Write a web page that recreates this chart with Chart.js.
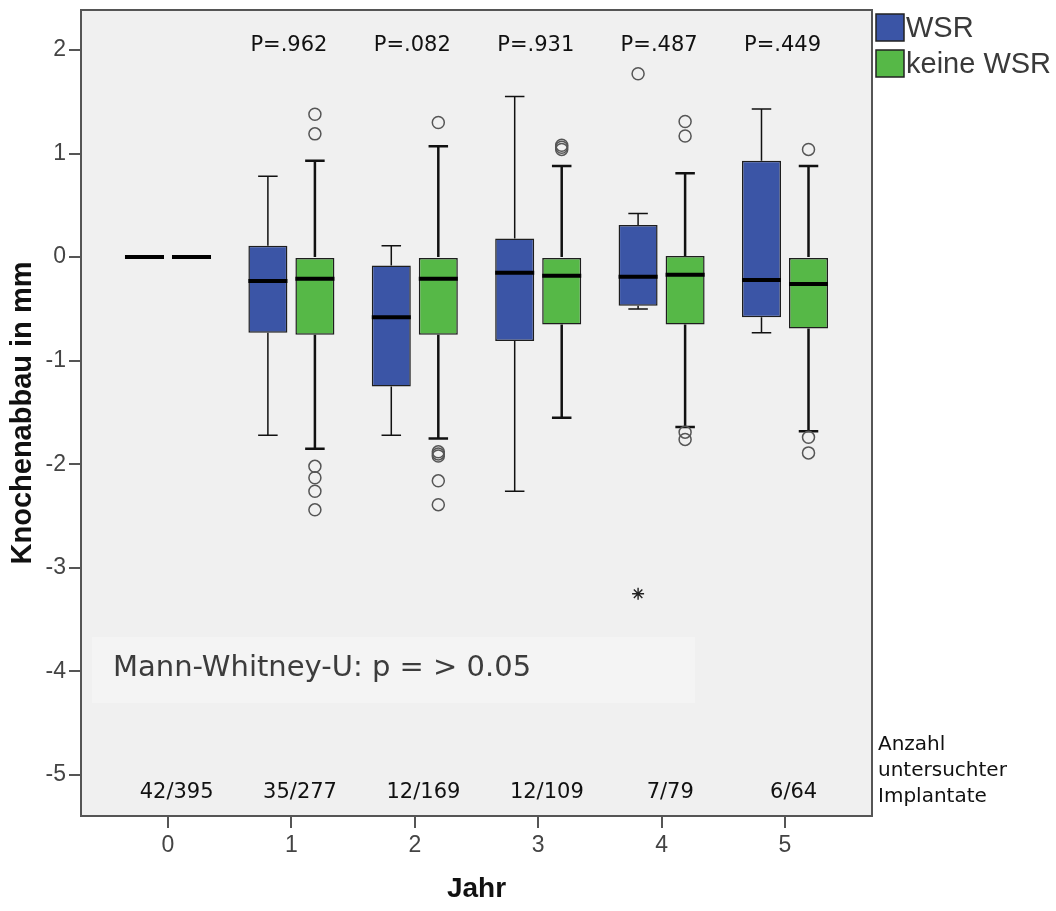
<!DOCTYPE html>
<html>
<head>
<meta charset="utf-8">
<script src="https://cdn.jsdelivr.net/npm/chart.js@4.4.1/dist/chart.umd.min.js"></script>
<style>
  body { margin: 0; background: #fff; }
  #wrap { width: 1056px; height: 911px; position: relative; }
</style>
</head>
<body>
<div id="wrap"><canvas id="chart"></canvas></div>
<script>
// Jahr nach Implantation
const years = [0, 1, 2, 3, 4, 5];

// WSR
const wsrMin = [0, -1.72, -1.72, -2.26, -0.50, -0.73];
const wsrQ1  = [0, -0.73, -1.25, -0.81, -0.47, -0.58];
const wsrMed = [0, -0.23, -0.58, -0.15, -0.19, -0.22];
const wsrQ3  = [0, 0.11, -0.08, 0.18, 0.31, 0.93];
const wsrMax = [0, 0.78, 0.11, 1.55, 0.42, 1.43];
const wsrOutliers = [[], [], [], [], [1.77], []];
const wsrExtremes = [[], [], [], [], [-3.25], []];

// keine WSR
const keineMin = [0, -1.85, -1.75, -1.55, -1.64, -1.68];
const keineQ1  = [0, -0.75, -0.75, -0.65, -0.65, -0.69];
const keineMed = [0, -0.21, -0.21, -0.18, -0.17, -0.26];
const keineQ3  = [0, 0, 0, 0, 0.01, 0];
const keineMax = [0, 0.93, 1.07, 0.88, 0.81, 0.88];
const keineOutliers = [
  [],
  [1.38, 1.19, -2.02, -2.13, -2.26, -2.44],
  [1.30, -1.88, -1.90, -1.92, -2.16, -2.39],
  [1.04, 1.06, 1.08],
  [1.31, 1.17, -1.69, -1.76],
  [1.04, -1.74, -1.89]
];

const pLabels = ['', 'P=.962', 'P=.082', 'P=.931', 'P=.487', 'P=.449'];
const countLabels = ['42/395', '35/277', '12/169', '12/109', '7/79', '6/64'];
const yTicks = [-5, -4, -3, -2, -1, 0, 1, 2];

const BLUE = '#3b55a6';
const GREEN = '#56b847';
const CAT_PCT = 0.762;
const GROUP_OFFSET = CAT_PCT / 4;

const boxStats = [
  {min: wsrMin, q1: wsrQ1, med: wsrMed, q3: wsrQ3, max: wsrMax, lw: 1.5},
  {min: keineMin, q1: keineQ1, med: keineMed, q3: keineQ3, max: keineMax, lw: 2.5}
];

const flatPoints = (lists, off) => {
  const pts = [];
  lists.forEach((vals, i) => vals.forEach(v => pts.push({x: years[i] + off, y: v})));
  return pts;
};

const boxPlugin = {
  id: 'boxplot',
  beforeDraw(chart) {
    const {ctx, chartArea: a} = chart;
    ctx.save();
    ctx.fillStyle = '#f0f0f0';
    ctx.fillRect(a.left, a.top, a.right - a.left, a.bottom - a.top);
    ctx.restore();
  },
  beforeDatasetsDraw(chart) {
    const {ctx, chartArea: a, scales: {y}} = chart;
    ctx.save();
    // Hinweisfeld
    ctx.fillStyle = '#f4f4f4';
    ctx.fillRect(a.left + 11, 637, 603, 66);
    ctx.fillStyle = '#3c3c3c';
    ctx.font = '29px "DejaVu Sans"';
    ctx.textBaseline = 'middle';
    ctx.fillText('Mann-Whitney-U: p = > 0.05', a.left + 32, 668);

    // whiskers
    ctx.strokeStyle = '#111';
    boxStats.forEach((s, d) => {
      const meta = chart.getDatasetMeta(d);
      meta.data.forEach((el, i) => {
        const x = el.x, cap = el.width * 0.5;
        ctx.lineWidth = s.lw;
        ctx.beginPath();
        ctx.moveTo(x, y.getPixelForValue(s.q3[i]));
        ctx.lineTo(x, y.getPixelForValue(s.max[i]));
        ctx.moveTo(x, y.getPixelForValue(s.q1[i]));
        ctx.lineTo(x, y.getPixelForValue(s.min[i]));
        ctx.moveTo(x - cap / 2, y.getPixelForValue(s.max[i]));
        ctx.lineTo(x + cap / 2, y.getPixelForValue(s.max[i]));
        ctx.moveTo(x - cap / 2, y.getPixelForValue(s.min[i]));
        ctx.lineTo(x + cap / 2, y.getPixelForValue(s.min[i]));
        ctx.stroke();
      });
    });
    ctx.restore();
  },
  afterDatasetsDraw(chart) {
    const {ctx, chartArea: a, scales: {x, y}} = chart;
    ctx.save();
    ctx.strokeStyle = '#000';
    ctx.lineWidth = 4;
    boxStats.forEach((s, d) => {
      chart.getDatasetMeta(d).data.forEach((el, i) => {
        const py = y.getPixelForValue(s.med[i]);
        ctx.beginPath();
        ctx.moveTo(el.x - el.width / 2, py);
        ctx.lineTo(el.x + el.width / 2, py);
        ctx.stroke();
      });
    });

    ctx.fillStyle = '#111';
    ctx.textAlign = 'center';
    ctx.textBaseline = 'middle';
    ctx.font = '21px "DejaVu Sans"';
    years.forEach((yr, i) => {
      if (pLabels[i]) ctx.fillText(pLabels[i], x.getPixelForValue(yr - 0.02), a.top + 36);
    });
    ctx.font = '21px "DejaVu Sans"';
    years.forEach((yr, i) => {
      ctx.fillText(countLabels[i], x.getPixelForValue(yr + 0.07), a.bottom - 23);
    });
    ctx.restore();
  },
  afterDraw(chart) {
    const {ctx, chartArea: a} = chart;
    ctx.save();
    ctx.strokeStyle = '#555';
    ctx.lineWidth = 2;
    ctx.strokeRect(a.left, a.top, a.right - a.left, a.bottom - a.top);

    // Legende
    const items = [['WSR', BLUE], ['keine WSR', GREEN]];
    items.forEach(([label, col], k) => {
      const top = 14 + k * 36;
      ctx.fillStyle = col;
      ctx.fillRect(a.right + 4, top, 28, 27);
      ctx.strokeStyle = '#222';
      ctx.lineWidth = 1.5;
      ctx.strokeRect(a.right + 4, top, 28, 27);
      ctx.fillStyle = '#3a3a3a';
      ctx.font = '29px "Liberation Sans"';
      ctx.textBaseline = 'middle';
      ctx.fillText(label, a.right + 34, top + 15);
    });

    ctx.fillStyle = '#111';
    ctx.font = '20px "DejaVu Sans"';
    ctx.textBaseline = 'alphabetic';
    ['Anzahl', 'untersuchter', 'Implantate'].forEach((t, k) => {
      ctx.fillText(t, a.right + 6, 750 + k * 26);
    });
    ctx.restore();
  }
};

new Chart(document.getElementById('chart'), {
  type: 'bar',
  data: {
    datasets: [
      {
        label: 'WSR',
        data: years.map((yr, i) => ({x: yr, y: [wsrQ1[i], wsrQ3[i]]})),
        backgroundColor: BLUE,
        borderColor: '#1e1e1e',
        borderWidth: 1.5,
        borderSkipped: false,
        categoryPercentage: CAT_PCT,
        barPercentage: 0.83
      },
      {
        label: 'keine WSR',
        data: years.map((yr, i) => ({x: yr, y: [keineQ1[i], keineQ3[i]]})),
        backgroundColor: GREEN,
        borderColor: '#1e1e1e',
        borderWidth: 1.5,
        borderSkipped: false,
        categoryPercentage: CAT_PCT,
        barPercentage: 0.83
      },
      {
        type: 'scatter',
        label: 'Ausreißer WSR',
        data: flatPoints(wsrOutliers, -GROUP_OFFSET),
        pointStyle: 'circle',
        pointRadius: 6,
        pointBorderWidth: 1.5,
        pointBorderColor: '#555',
        pointBackgroundColor: 'rgba(0,0,0,0)'
      },
      {
        type: 'scatter',
        label: 'Extremwerte WSR',
        data: flatPoints(wsrExtremes, -GROUP_OFFSET),
        pointStyle: 'star',
        pointRadius: 6,
        pointBorderWidth: 1.4,
        pointBorderColor: '#222'
      },
      {
        type: 'scatter',
        label: 'Ausreißer keine WSR',
        data: flatPoints(keineOutliers, GROUP_OFFSET),
        pointStyle: 'circle',
        pointRadius: 6,
        pointBorderWidth: 1.5,
        pointBorderColor: '#555',
        pointBackgroundColor: 'rgba(0,0,0,0)'
      }
    ]
  },
  options: {
    responsive: true,
    maintainAspectRatio: false,
    animation: false,
    events: [],
    layout: {padding: {top: 10, right: 184, bottom: 0, left: 0}},
    plugins: {legend: {display: false}, tooltip: {enabled: false}},
    scales: {
      x: {
        type: 'linear',
        min: -0.705,
        max: 5.705,
        offset: false,
        afterBuildTicks: s => { s.ticks = years.map(v => ({value: v})); },
        afterFit: s => { s.height = 95; s.paddingLeft = 0; s.paddingRight = 0; },
        grid: {offset: false, drawOnChartArea: false, drawTicks: true, tickLength: 12, color: '#555', lineWidth: 2},
        border: {display: false},
        ticks: {font: {family: 'Liberation Sans', size: 23}, color: '#444', padding: 4},
        title: {
          display: true,
          text: 'Jahr',
          font: {family: 'Liberation Sans', size: 28, weight: 'bold'},
          color: '#111',
          padding: {top: 0, bottom: 5}
        }
      },
      y: {
        min: -5.396,
        max: 2.386,
        afterBuildTicks: s => { s.ticks = yTicks.map(v => ({value: v})); },
        afterFit: s => { s.width = 81; s.paddingTop = 0; s.paddingBottom = 0; },
        grid: {drawOnChartArea: false, drawTicks: true, tickLength: 12, color: '#555', lineWidth: 2},
        border: {display: false},
        ticks: {font: {family: 'Liberation Sans', size: 23}, color: '#444', padding: 3},
        title: {
          display: true,
          text: 'Knochenabbau in mm',
          font: {family: 'Liberation Sans', size: 29, weight: 'bold'},
          color: '#111',
          padding: {top: 6, bottom: 0}
        }
      }
    }
  },
  plugins: [boxPlugin]
});
</script>
</body>
</html>
